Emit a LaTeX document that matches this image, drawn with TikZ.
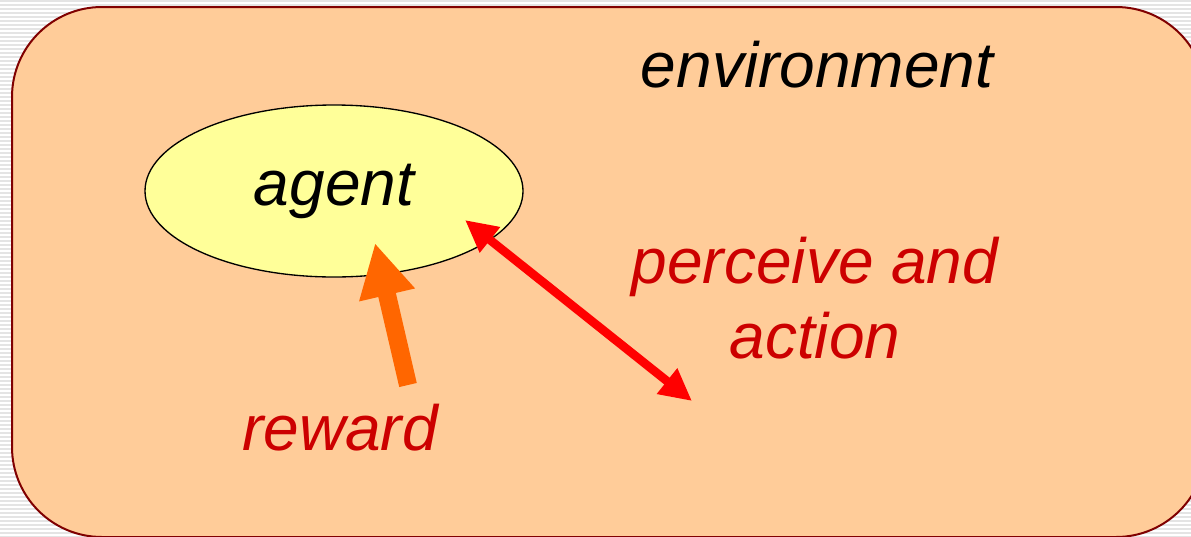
\documentclass[tikz,border=0pt]{standalone}
\usepackage{fontspec}
\setmainfont{Liberation Sans}
\usepackage{tikz}
\usetikzlibrary{
  arrows.meta,
  positioning,
  shapes.geometric
}
\definecolor{peach}{HTML}{FFCC99}
\definecolor{darkred}{HTML}{800000}
\definecolor{paleyellow}{HTML}{FFFF99}
\definecolor{labelred}{HTML}{CC0000}
\definecolor{brightred}{HTML}{FF0000}
\definecolor{orange}{HTML}{FF6600}
\definecolor{stripegray}{HTML}{E4E4E4}
\tikzset{
  envbox/.style={
    rectangle,
    rounded corners=67.5pt,
    draw=darkred,
    line width=1.5pt,
    fill=peach,
    minimum width=895.5pt,
    minimum height=397.5pt,
    inner sep=0pt
  },
  agentbox/.style={
    ellipse,
    draw=black,
    line width=1pt,
    fill=paleyellow,
    minimum width=283.5pt,
    minimum height=129pt,
    inner sep=0pt
  },
  label/.style={
    font=\fontsize{48}{56}\selectfont\itshape,
    inner sep=0pt,
    align=center
  },
  rewardarrow/.style={
    -{Triangle[length=40pt,width=40pt]},
    line width=13.5pt,
    draw=orange
  },
  linkarrow/.style={
    {Triangle[length=24pt,width=23pt]}-{Triangle[length=24pt,width=23pt]},
    line width=6.5pt,
    draw=brightred
  }
}

\begin{document}
\begin{tikzpicture}[x=0.75pt,y=-0.75pt]
\useasboundingbox (0,0) rectangle (1191,536);
\clip (0,0) rectangle (1191,536);
% striped backdrop
\foreach \y in {0,4,...,536}
  \fill[stripegray] (0,\y) rectangle (1191,\y+2);

\node[envbox] (env) at (609,272) {};
\node[label, anchor=base] (envlabel) at (817,87) {environment};
\node[agentbox, label] (agent) at (334,191) {agent};
\node[label, text=labelred, anchor=base] (perceive) at (815,358) {perceive and\\action};
\node[label, text=labelred, anchor=base] (reward) at (340,450) {reward};

\coordinate (rewardtail) at (408,385);
\coordinate (rewardtip) at (375,243);
\coordinate (seen) at (465,220);
\coordinate (acted) at (692,401);

\draw[rewardarrow] (rewardtail) -- (rewardtip);
\draw[linkarrow] (seen) -- (acted);
\end{tikzpicture}
\end{document}
